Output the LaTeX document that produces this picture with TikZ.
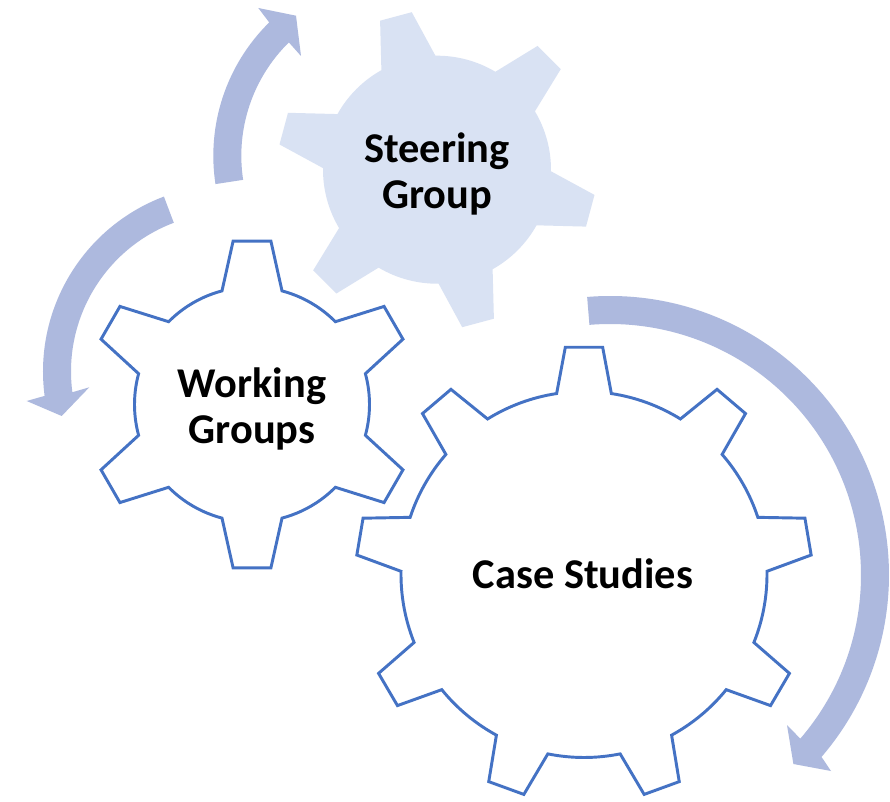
\documentclass[tikz,border=0pt]{standalone}
\usepackage{fontspec}
\setmainfont{Carlito}
\definecolor{gearline}{HTML}{4472C4}
\definecolor{gearfill}{HTML}{D9E2F3}
\definecolor{arrowfill}{HTML}{ADB9DE}
% #1 style, #2 cx, #3 cy, #4 base radius, #5 tip radius, #6 base half angle, #7 tip half angle, #8 list tooth/next tooth, #9 first tooth angle
\newcommand{\gearpath}[9]{%
  \path[#1,shift={(#2,#3)}] ({#9+#6}:#4)
    \foreach \a/\b in {#8}{
      -- ({\a+#7}:#5) -- ({\a-#7}:#5) -- ({\a-#6}:#4)
      arc[start angle={\a-#6}, end angle={\b+#6}, radius=#4]
    } -- cycle;%
}
% #1 cx, #2 cy, #3 outer radius, #4 inner radius, #5 start angle, #6 end angle, #7 outer wing, #8 tip, #9 inner wing
\newcommand{\bentarrow}[9]{%
  \fill[arrowfill] ({#1+#3*cos(#5)},{#2+#3*sin(#5)})
    arc[start angle=#5, end angle=#6, radius=#3]
    -- #7 -- #8 -- #9
    -- ({#1+#4*cos(#6)},{#2+#4*sin(#6)})
    arc[start angle=#6, end angle=#5, radius=#4] -- cycle;%
}
\tikzset{
  gearoutline/.style={draw=gearline,line width=2.2pt,line join=miter,fill=none},
  gearsolid/.style={fill=gearfill},
  gearlabel/.style={font=\fontsize{31.8}{34.5}\selectfont\bfseries,align=center,text=black,inner sep=0pt}
}
\begin{document}
\begin{tikzpicture}[x=0.75pt,y=0.75pt]
\useasboundingbox (0,0) rectangle (890,801);
\fill[white] (0,0) rectangle (890,801);
\bentarrow{400.3}{645.2}{187}{159}{188.7}{134.5}{(258.3,793)}{(296,785.3)}{(301,745)}
\bentarrow{230}{429.5}{187}{159}{110.7}{187.5}{(26.7,400)}{(61.7,385)}{(89.3,413.7)}
\bentarrow{610}{226}{279}{251}{94.7}{-40.7}{(831,30)}{(793.4,37)}{(787,76)}
\gearpath{gearsolid}{437}{631.3}{114}{159.5}{14.2}{5.9}{105/45,45/-15,-15/-75,-75/-135,-135/-195,-195/-255}{105}
\gearpath{gearoutline}{252}{396.5}{117.5}{164.5}{14.8}{6.6}{90/30,30/-30,-30/-90,-90/-150,-150/-210,-210/-270}{90}
\gearpath{gearoutline}{584}{226.5}{183}{228}{8.6}{4.7}{90/49.6,49.6/9.6,9.6/-30.4,-30.4/-70,-70/-110,-110/-149.6,-149.6/-189.6,-189.6/-229.6,-229.6/-270}{90}
\node[gearlabel] (steering) at (437,627.5) {Steering\\Group};
\node[gearlabel] (working) at (252,392.5) {Working\\Groups};
\node[gearlabel] (case) at (583,227.5) {Case Studies};
\end{tikzpicture}
\end{document}
